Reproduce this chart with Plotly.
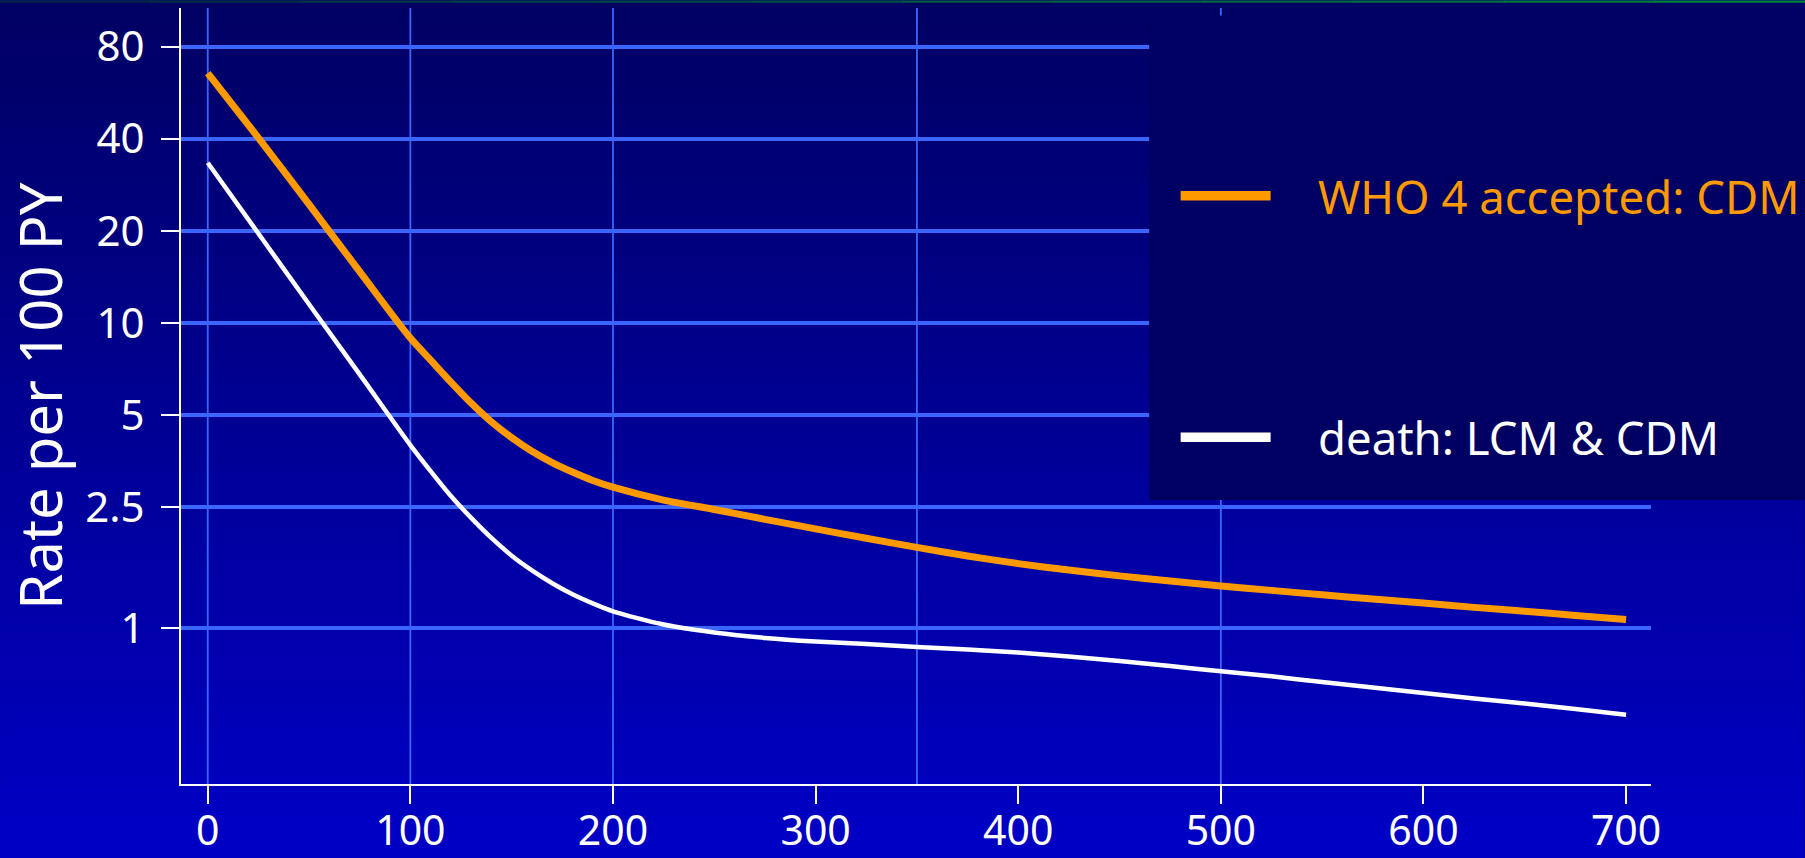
import plotly.graph_objects as go

# ---------------- data ----------------
x_days = [0, 25, 50, 75, 100, 110, 120, 130, 140, 150, 160, 170, 180, 190, 200,
          225, 250, 275, 300, 325, 350, 375, 400, 425, 450, 475, 500,
          525, 550, 575, 600, 625, 650, 675, 700]
who4_cdm = [65.6, 40.3, 24.4, 14.7, 8.91, 7.55, 6.40, 5.46, 4.74, 4.21, 3.80, 3.49, 3.25, 3.05, 2.90,
            2.63, 2.45, 2.275, 2.118, 1.972, 1.841, 1.726, 1.629, 1.552, 1.486, 1.429, 1.377,
            1.332, 1.288, 1.249, 1.211, 1.172, 1.138, 1.103, 1.070]
death_lcm_cdm = [33.4, 19.6, 11.5, 6.78, 3.98, 3.27, 2.71, 2.30, 1.977, 1.730, 1.549, 1.406, 1.294, 1.208, 1.138,
                 1.03, 0.970, 0.931, 0.906, 0.889, 0.870, 0.853, 0.834, 0.809, 0.782, 0.753, 0.724,
                 0.697, 0.668, 0.641, 0.615, 0.590, 0.568, 0.545, 0.522]
series_names = ["WHO 4 accepted: CDM", "death: LCM & CDM"]
series_colors = ["#ff9900", "#ffffff"]
x_tick_vals = [0, 100, 200, 300, 400, 500, 600, 700]
x_tick_text = ["0", "100", "200", "300", "400", "500", "600", "700"]
x_grid_vals = [0, 100, 200, 350, 500]
y_tick_vals = [80, 40, 20, 10, 5, 2.5, 1]
y_tick_text = ["80", "40", "20", "10", "5", "2.5", "1"]
y_title = "Rate per 100 PY"

# ---------------- layout geometry (pixels) ----------------
W, H = 1805, 858
PL, PR, PT, PB = 181, 1651.5, 7.5, 784.3
FONT = "Noto Sans"


def px(X):
    return (X - PL) / (PR - PL)


def py(Y):
    return (PB - Y) / (PB - PT)


shapes = []

# background vertical gradient
N = 60
top_rgb = (0, 0, 98)
bot_rgb = (0, 0, 198)
for i in range(N):
    y0 = H * i / N
    y1 = H * (i + 1) / N + 0.6
    t = (i + 0.5) / N
    c = tuple(int(round(a + (b - a) * t)) for a, b in zip(top_rgb, bot_rgb))
    shapes.append(dict(type="rect", xref="paper", yref="paper", layer="below",
                       x0=px(0), x1=px(W), y0=py(y1), y1=py(y0),
                       fillcolor="rgb(%d,%d,%d)" % c, line=dict(width=0)))

# thin green strip at the very top
M = 12
for i in range(M):
    t = i / (M - 1)
    g = int(40 + 90 * t)
    b = int(70 - 10 * t)
    shapes.append(dict(type="rect", xref="paper", yref="paper", layer="above",
                       x0=px(W * i / M), x1=px(W * (i + 1) / M + 1), y0=py(2.2), y1=py(0),
                       fillcolor="rgb(0,%d,%d)" % (g, b), line=dict(width=0)))

# vertical grid lines
for v in x_grid_vals:
    shapes.append(dict(type="line", xref="x", yref="paper", layer="below",
                       x0=v, x1=v, y0=0, y1=1,
                       line=dict(color="#3a66ff", width=1.8)))

# legend box
shapes.append(dict(type="rect", xref="paper", yref="paper", layer="above",
                   x0=px(1149.5), x1=px(W + 5), y0=py(500), y1=py(15),
                   fillcolor="#000062", line=dict(width=0)))

legend_y = [195.5, 437.3]
annotations = []
for name, col, ly in zip(series_names, series_colors, legend_y):
    shapes.append(dict(type="line", xref="paper", yref="paper", layer="above",
                       x0=px(1181), x1=px(1271), y0=py(ly), y1=py(ly),
                       line=dict(color=col, width=9.5)))
    annotations.append(dict(xref="paper", yref="paper", x=px(1316), y=py(ly),
                            xanchor="left", yanchor="middle", showarrow=False,
                            text=name, font=dict(family=FONT, size=45.5, color=col)))

fig = go.Figure()
fig.add_trace(go.Scatter(x=x_days, y=death_lcm_cdm, mode="lines", name=series_names[1],
                         line=dict(color=series_colors[1], width=4.5, shape="spline", smoothing=0.7),
                         showlegend=False))
fig.add_trace(go.Scatter(x=x_days, y=who4_cdm, mode="lines", name=series_names[0],
                         line=dict(color=series_colors[0], width=7, shape="spline", smoothing=0.7),
                         showlegend=False))

fig.update_layout(
    width=W, height=H,
    margin=dict(l=PL, r=W - PR, t=PT, b=H - PB, autoexpand=False),
    paper_bgcolor="#000080",
    plot_bgcolor="rgba(0,0,0,0)",
    shapes=shapes,
    annotations=annotations,
    showlegend=False,
    xaxis=dict(range=[-13.2, 712.3], tickvals=x_tick_vals, ticktext=x_tick_text,
               showgrid=False, zeroline=False, showline=True, linecolor="white", linewidth=2,
               ticks="outside", ticklen=18, tickwidth=2, tickcolor="white", ticklabelstandoff=-8,
               tickfont=dict(family=FONT, size=41, color="white"), automargin=False),
    yaxis=dict(type="log", range=[-0.509, 2.030], tickvals=y_tick_vals, ticktext=y_tick_text,
               showgrid=True, gridcolor="#3a66ff", gridwidth=4, zeroline=False,
               showline=True, linecolor="white", linewidth=2,
               ticks="outside", ticklen=18, tickwidth=2, tickcolor="white", ticklabelstandoff=8,
               tickfont=dict(family=FONT, size=42, color="white"), automargin=False,
               title=dict(text=y_title, font=dict(family=FONT, size=58, color="white"), standoff=30)),
    font=dict(family=FONT, color="white"),
)

fig.write_html("out.html")
